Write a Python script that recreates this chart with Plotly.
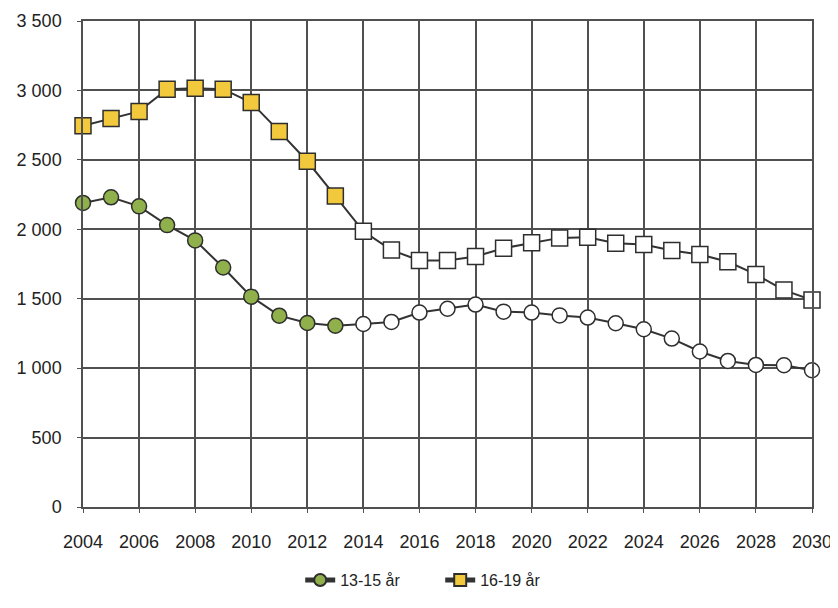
import plotly.graph_objects as go

years = list(range(2004, 2031))
last_observed = 2013

ages_13_15 = [2190, 2230, 2165, 2030, 1920, 1725, 1515, 1378, 1325, 1305,
              1318, 1333, 1400, 1428, 1458, 1407, 1400, 1380, 1364, 1323,
              1280, 1213, 1120, 1052, 1023, 1021, 985]
ages_16_19 = [2745, 2798, 2849, 3009, 3016, 3009, 2913, 2705, 2490, 2239,
              1985, 1850, 1776, 1776, 1804, 1864, 1903, 1938, 1943, 1900,
              1890, 1848, 1819, 1766, 1675, 1562, 1490]

series_names = ["13-15 år", "16-19 år"]
y_tickvals = [0, 500, 1000, 1500, 2000, 2500, 3000, 3500]
y_ticktext = ["0", "500", "1 000", "1 500", "2 000", "2 500", "3 000", "3 500"]
x_tickvals = list(range(2004, 2031, 2))

green = "#8fb04a"
yellow = "#f2c93c"

def fills(color):
    return [color if y <= last_observed else "white" for y in years]

fig = go.Figure()
fig.add_trace(go.Scatter(
    x=years, y=ages_13_15, name=series_names[0], mode="lines+markers",
    line=dict(color="#333333", width=2),
    marker=dict(symbol="circle", size=15, color=fills(green),
                line=dict(color="#2e2e2e", width=1.5)),
    cliponaxis=False,
))
fig.add_trace(go.Scatter(
    x=years, y=ages_16_19, name=series_names[1], mode="lines+markers",
    line=dict(color="#333333", width=2),
    marker=dict(symbol="square", size=16, color=fills(yellow),
                line=dict(color="#2e2e2e", width=1.5)),
    cliponaxis=False,
))

fig.update_layout(
    width=830, height=600,
    margin=dict(l=75, r=26, t=13, b=100),
    paper_bgcolor="white", plot_bgcolor="white",
    font=dict(family="Liberation Sans, Arial, sans-serif", size=18, color="#222222"),
    showlegend=True,
    legend=dict(orientation="h", x=0.49, xanchor="center", y=-0.148, yanchor="middle",
                font=dict(size=16), itemsizing="constant", entrywidth=95),
)
fig.update_xaxes(
    range=[2004, 2030], tickvals=x_tickvals, ticktext=[str(v) for v in x_tickvals],
    showgrid=True, gridcolor="#505050", gridwidth=1.5,
    showline=True, linecolor="#505050", linewidth=1.5, mirror=True,
    ticks="outside", ticklen=4, tickcolor="#505050", zeroline=False,
    ticklabelstandoff=14, automargin=False,
)
fig.update_yaxes(
    range=[0, 3500], tickvals=y_tickvals, ticktext=y_ticktext,
    showgrid=True, gridcolor="#505050", gridwidth=1.5,
    showline=True, linecolor="#505050", linewidth=1.5, mirror=True,
    ticks="outside", ticklen=4, tickcolor="#505050", zeroline=False,
    ticklabelstandoff=12, automargin=False,
)

fig.write_html("out.html")
